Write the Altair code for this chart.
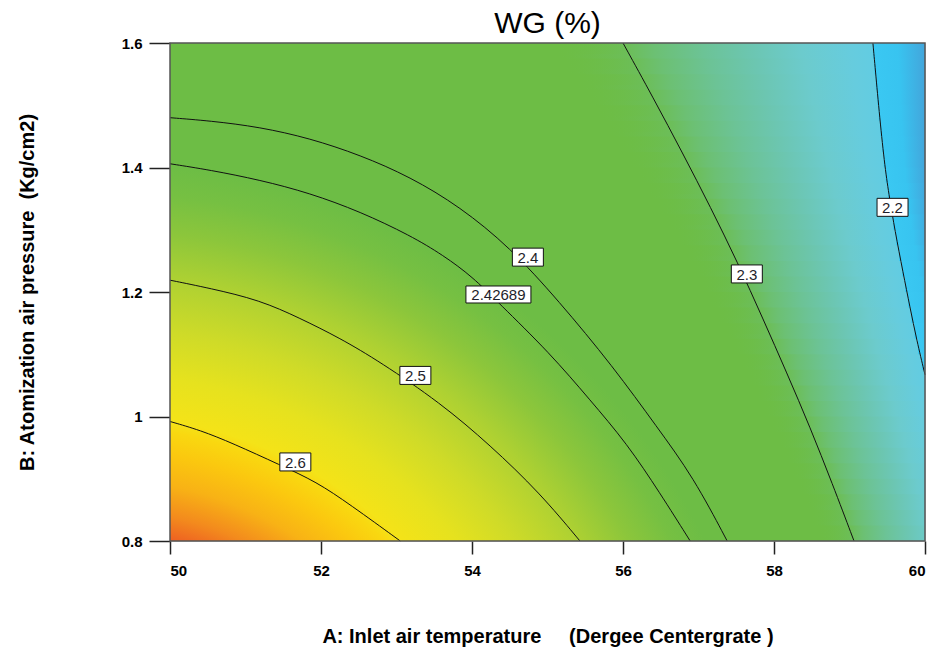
import altair as alt
import numpy as np
import pandas as pd

# ---- axes ----
a_domain = [50, 60]
b_domain = [0.8, 1.6]
a_ticks = [50, 52, 54, 56, 58, 60]
b_ticks = [0.8, 1.0, 1.2, 1.4, 1.6]

# ---- contour lines (A, B) ----
c26_a = [50.0, 50.40, 50.83, 51.46, 51.94, 52.38, 53.05]
c26_b = [0.992, 0.978, 0.957, 0.922, 0.895, 0.859, 0.800]
c25_a = [50.0, 50.53, 51.19, 51.72, 52.25, 52.78, 53.58, 54.24, 54.90, 55.43]
c25_b = [1.219, 1.206, 1.187, 1.158, 1.126, 1.088, 1.022, 0.954, 0.877, 0.800]
c2427_a = [50.0, 50.53, 51.19, 51.85, 52.52, 53.18, 53.62, 54.01, 54.34, 55.03, 55.56, 56.05, 56.49, 56.89]
c2427_b = [1.406, 1.396, 1.380, 1.359, 1.329, 1.291, 1.259, 1.224, 1.184, 1.102, 1.027, 0.957, 0.877, 0.800]
c24_a = [50.0, 50.53, 51.19, 51.85, 52.52, 53.18, 53.84, 54.50, 55.14, 55.87, 56.45, 56.93, 57.38]
c24_b = [1.480, 1.475, 1.465, 1.447, 1.420, 1.385, 1.337, 1.272, 1.187, 1.080, 0.983, 0.903, 0.800]
c23_a = [56.0, 56.40, 56.79, 57.16, 57.52, 57.85, 58.17, 58.48, 58.77, 59.06]
c23_b = [1.600, 1.512, 1.423, 1.336, 1.247, 1.158, 1.070, 0.982, 0.893, 0.800]
c22_a = [59.31, 59.34, 59.40, 59.47, 59.53, 59.60, 59.71, 59.80, 59.89, 60.0]
c22_b = [1.600, 1.560, 1.480, 1.399, 1.351, 1.300, 1.231, 1.176, 1.123, 1.067]

# ---- contour labels ----
lab_text = ["2.6", "2.5", "2.42689", "2.4", "2.3", "2.2"]
lab_a = [51.66, 53.25, 54.35, 54.74, 57.64, 59.57]
lab_b = [0.927, 1.066, 1.196, 1.256, 1.229, 1.336]
lab_kind = ["short", "short", "long", "short", "short", "short"]

title_txt = ["WG (%)"]
x_title = "A: Inlet air temperature\u00a0\u00a0\u00a0\u00a0\u00a0(Dergee Centergrate )"
y_title = "B: Atomization air pressure\u00a0\u00a0(Kg/cm2)"

# ---- tables ----
rows = []
for lvl, aa, bb in [("2.6", c26_a, c26_b), ("2.5", c25_a, c25_b),
                    ("2.42689", c2427_a, c2427_b), ("2.4", c24_a, c24_b),
                    ("2.3", c23_a, c23_b), ("2.2", c22_a, c22_b)]:
    for i, (a, b) in enumerate(zip(aa, bb)):
        rows.append({"level": lvl, "i": i, "a": a, "b": b})
lines_df = pd.DataFrame(rows)
labels_df = pd.DataFrame({"txt": lab_text, "a": lab_a, "b": lab_b, "kind": lab_kind})
bg_df = pd.DataFrame({"a0": [a_domain[0]], "a1": [a_domain[1]],
                      "b0": [b_domain[0]], "b1": [b_domain[1]]})
title_df = pd.DataFrame({"t": title_txt})

x_scale = alt.Scale(domain=a_domain, nice=False, zero=False)
y_scale = alt.Scale(domain=b_domain, nice=False, zero=False)

x_axis = alt.Axis(values=a_ticks, format="d", title=x_title, grid=False, domain=False,
                  tickSize=13, tickWidth=1.5, tickColor="#222", labelPadding=9,
                  labelFont="Liberation Sans", labelFontSize=15, labelFontWeight="bold",
                  labelColor="#000", titleFont="Liberation Sans", titleFontSize=20,
                  titleFontWeight="bold", titleColor="#000", titleX=377.5, titleY=95,
                  titleBaseline="middle", titleAlign="center")
y_axis = alt.Axis(values=b_ticks, format="~g", title=y_title, grid=False, domain=False,
                  tickSize=21, tickWidth=1.5, tickColor="#222", labelPadding=7,
                  labelFont="Liberation Sans", labelFontSize=15, labelFontWeight="bold",
                  labelColor="#000", titleFont="Liberation Sans", titleFontSize=20,
                  titleFontWeight="bold", titleColor="#000", titleX=-143, titleY=249,
                  titleBaseline="middle", titleAlign="center", titleAngle=270)


def X(f):
    return alt.X(f, type="quantitative", scale=x_scale, axis=x_axis)


def Y(f):
    return alt.Y(f, type="quantitative", scale=y_scale, axis=y_axis)


# ---- surface shading (style) ----
# warm side: radial gradient centred below-left of the plot
warm = {
    "gradient": "radial", "x1": -0.085, "y1": 1.209, "r1": 0,
    "x2": -0.085, "y2": 1.209, "r2": 1,
    "stops": [
        {"offset": 0.0, "color": "#e43c1e"},
        {"offset": 0.388, "color": "#ee5f22"},
        {"offset": 0.42, "color": "#f38a1d"},
        {"offset": 0.46, "color": "#f8b215"},
        {"offset": 0.50, "color": "#fbc80f"},
        {"offset": 0.53, "color": "#f9d810"},
        {"offset": 0.545, "color": "#f4e318"},
        {"offset": 0.60, "color": "#e6e21e"},
        {"offset": 0.66, "color": "#cfdb28"},
        {"offset": 0.73, "color": "#aed132"},
        {"offset": 0.79, "color": "#8cc63b"},
        {"offset": 0.84, "color": "#76c042"},
        {"offset": 0.88, "color": "#6dbd45"},
        {"offset": 1.0, "color": "#6dbd45"},
    ],
}

# cool side: colour as a function of the position between the 2.3 (s=0) and 2.2 (s=1) contours
cool_s = [-0.3, 0.0, 0.11, 0.31, 0.51, 0.71, 0.91, 0.995, 1.0, 1.1, 1.2]
cool_c = [(109, 189, 69, 0.0), (108, 190, 88, 1), (108, 192, 115, 1), (108, 195, 150, 1),
          (108, 198, 178, 1), (108, 203, 205, 1), (102, 204, 222, 1), (98, 204, 226, 1),
          (58, 200, 242, 1), (56, 196, 240, 1), (66, 168, 221, 1)]


def rgba(c):
    return "rgba(%d,%d,%d,%.3f)" % (round(c[0]), round(c[1]), round(c[2]), c[3])


def col_at(s):
    s = min(max(s, cool_s[0]), cool_s[-1])
    for k in range(len(cool_s) - 1):
        if cool_s[k] <= s <= cool_s[k + 1]:
            f = (s - cool_s[k]) / (cool_s[k + 1] - cool_s[k])
            return tuple(cool_c[k][j] + f * (cool_c[k + 1][j] - cool_c[k][j]) for j in range(4))
    return cool_c[-1]


c23_bs, c23_as = np.array(c23_b[::-1]), np.array(c23_a[::-1])
c22_bs, c22_as = np.array(c22_b[::-1]), np.array(c22_a[::-1])
c22_slope = (c22_a[-1] - c22_a[-2]) / (c22_b[-1] - c22_b[-2])


def contour_a(bs, as_, b, slope=None):
    if slope is not None and b < bs[0]:
        return as_[0] + slope * (b - bs[0])
    return float(np.interp(b, bs, as_))


enc_bg = dict(x=X("a0"), x2="a1", y=Y("b0"), y2="b1")
layers = [alt.Chart(bg_df).mark_rect(fill=warm).encode(**enc_bg)]

n_band = 32
step = (b_domain[1] - b_domain[0]) / n_band
for k in range(n_band):
    lo = b_domain[0] + k * step
    hi = min(b_domain[1], lo + step * 1.3)
    mid = lo + step / 2
    a23 = contour_a(c23_bs, c23_as, mid)
    a22 = contour_a(c22_bs, c22_as, mid, c22_slope)
    span = a22 - a23
    stops = []
    for s, c in zip(cool_s, cool_c):
        u = (a23 + s * span - a_domain[0]) / (a_domain[1] - a_domain[0])
        if u < 1:
            stops.append({"offset": round(max(u, 0.0), 5), "color": rgba(c)})
    s_edge = (a_domain[1] - a23) / span
    stops.append({"offset": 1.0, "color": rgba(col_at(s_edge))})
    grad = {"gradient": "linear", "x1": 0, "y1": 0, "x2": 1, "y2": 0, "stops": stops}
    band_df = pd.DataFrame({"a0": [a_domain[0]], "a1": [a_domain[1]], "b0": [lo], "b1": [hi]})
    layers.append(alt.Chart(band_df).mark_rect(fill=grad).encode(**enc_bg))

lines = alt.Chart(lines_df).mark_line(color="#111", strokeWidth=1, interpolate="basis").encode(
    x=X("a"), y=Y("b"), detail="level:N", order="i:Q")

box_short = "M-15.5,-9H15.5V9H-15.5Z"
box_long = "M-32.5,-8.5H32.5V8.5H-32.5Z"
boxes = alt.Chart(labels_df).mark_point(filled=True, fill="white", stroke="#111",
                                        strokeWidth=1, size=4, opacity=1).encode(
    x=X("a"), y=Y("b"),
    shape=alt.Shape("kind:N", scale=alt.Scale(domain=["short", "long"],
                                              range=[box_short, box_long]), legend=None))
texts = alt.Chart(labels_df).mark_text(font="Liberation Sans", fontSize=15, color="#1e1e2a",
                                       baseline="middle", align="center", dy=1).encode(
    x=X("a"), y=Y("b"), text="txt:N")

frame = alt.Chart(bg_df).mark_rect(filled=False, color="#555", strokeWidth=1.5).encode(**enc_bg)

title = alt.Chart(title_df).mark_text(font="Liberation Sans", fontSize=30, color="#000",
                                      baseline="alphabetic", align="center").encode(
    x=alt.value(377.5), y=alt.value(-10), text="t:N")

layers += [lines, boxes, texts, frame, title]

chart = alt.layer(*layers).properties(
    width=755, height=498,
    autosize=alt.AutoSizeParams(type="none"),
    padding={"left": 170, "top": 43, "right": 10, "bottom": 108},
).configure_view(strokeWidth=0).configure(background="white")

chart.save("out.html", embed_options={"renderer": "svg", "actions": False})
